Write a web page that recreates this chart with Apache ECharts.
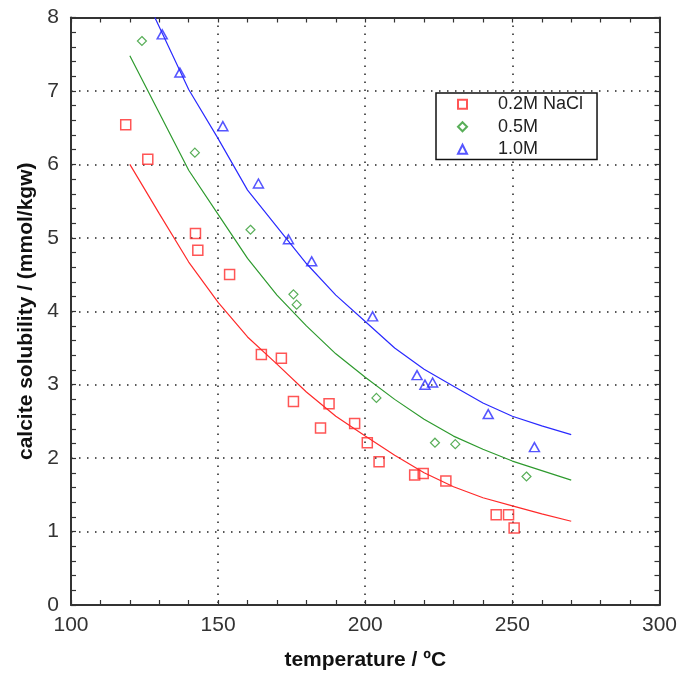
<!DOCTYPE html>
<html>
<head>
<meta charset="utf-8">
<script src="https://cdn.jsdelivr.net/npm/echarts@6/dist/echarts.min.js"></script>
<style>html,body{margin:0;padding:0;background:#fff}#c{width:680px;height:676px}</style>
</head>
<body>
<div id="c"></div>
<script>
// Measured data (temperature in °C, calcite solubility in mmol/kgw)
const redT = [118.6, 126.1, 142.3, 143.1, 153.9, 164.7, 171.5, 175.6, 184.8, 187.7, 196.4, 200.7, 204.7, 216.8, 219.7, 227.4, 244.5, 248.7, 250.6];
const redS = [6.54, 6.07, 5.06, 4.83, 4.50, 3.41, 3.36, 2.77, 2.41, 2.74, 2.47, 2.21, 1.95, 1.77, 1.79, 1.69, 1.23, 1.23, 1.05];

const greenT = [124.1, 142.1, 161.0, 175.6, 176.7, 203.8, 223.7, 230.6, 254.8];
const greenS = [7.68, 6.16, 5.11, 4.23, 4.09, 2.82, 2.21, 2.19, 1.75];

const blueT = [131.0, 137.0, 151.6, 163.7, 173.9, 181.8, 202.5, 217.6, 220.3, 222.9, 241.8, 257.5];
const blueS = [7.77, 7.25, 6.52, 5.74, 4.98, 4.68, 3.93, 3.13, 3.00, 3.03, 2.60, 2.15];

// Model curves
const fitT = [120, 130, 140, 150, 160, 170, 180, 190, 200, 210, 220, 230, 240, 250, 260, 270];
const redFit = [6.00, 5.33, 4.67, 4.12, 3.65, 3.28, 2.90, 2.57, 2.30, 2.04, 1.80, 1.61, 1.46, 1.35, 1.24, 1.14];
const greenFit = [7.48, 6.70, 5.92, 5.32, 4.72, 4.22, 3.80, 3.42, 3.10, 2.80, 2.53, 2.30, 2.12, 1.96, 1.83, 1.70];
const blueFitT = [128.5, 140, 150, 160, 170, 180, 190, 200, 210, 220, 230, 240, 250, 260, 270];
const blueFit = [8.00, 7.02, 6.35, 5.65, 5.15, 4.65, 4.22, 3.86, 3.50, 3.21, 2.98, 2.75, 2.57, 2.44, 2.32];

const seriesNames = ['0.2M NaCl', '0.5M', '1.0M'];
const xTitle = 'temperature / ºC';
const yTitle = 'calcite solubility / (mmol/kgw)';

const RED = '#ff2a2a', GREEN = '#2e9a2e', BLUE = '#2a2aff';
const zip = (a, b) => a.map((v, i) => [v, b[i]]);
const FONT = 'Liberation Sans, Arial, sans-serif';
const AX = '#333';

const chart = echarts.init(document.getElementById('c'), null, {renderer: 'canvas'});

const tickCommon = {
  axisLine: {show: true, onZero: false, lineStyle: {color: AX, width: 2}},
  axisTick: {show: true, inside: true, length: 5, lineStyle: {color: AX, width: 1.2}},
  minorTick: {show: true, splitNumber: 5, length: 5, lineStyle: {color: AX, width: 1.2}},
};
const dotted = {show: true, lineStyle: {color: '#222', width: 1.5, type: [1.5, 6.5]}};

chart.setOption({
  animation: false,
  backgroundColor: '#fff',
  grid: {left: 71, right: 19, top: 17.5, bottom: 68.5, containLabel: false},
  xAxis: [
    Object.assign({
      type: 'value', position: 'bottom', min: 100, max: 300, interval: 50,
      name: xTitle, nameLocation: 'middle', nameGap: 45,
      nameTextStyle: {fontFamily: FONT, fontWeight: 'bold', fontSize: 21, color: '#111'},
      axisLabel: {fontFamily: FONT, fontSize: 21, color: '#333', margin: 10},
      splitLine: dotted
    }, tickCommon),
    Object.assign({
      type: 'value', position: 'top', min: 100, max: 300, interval: 50,
      axisLabel: {show: false}, splitLine: {show: false}
    }, tickCommon)
  ],
  yAxis: [
    Object.assign({
      type: 'value', position: 'left', min: 0, max: 8, interval: 1,
      name: yTitle, nameLocation: 'middle', nameGap: 33, nameRotate: 90,
      nameTextStyle: {fontFamily: FONT, fontWeight: 'bold', fontSize: 21, color: '#111'},
      axisLabel: {fontFamily: FONT, fontSize: 21, color: '#333', margin: 12},
      splitLine: dotted
    }, tickCommon),
    Object.assign({
      type: 'value', position: 'right', min: 0, max: 8, interval: 1,
      axisLabel: {show: false}, splitLine: {show: false}
    }, tickCommon)
  ],
  legend: {
    orient: 'vertical', left: 436, top: 93,
    data: seriesNames,
    backgroundColor: '#fff', borderColor: '#111', borderWidth: 1.5,
    padding: [1, 14, 0, 21],
    itemWidth: 9, itemHeight: 9, itemGap: 2,
    textStyle: {fontFamily: FONT, fontSize: 18, color: '#222', lineHeight: 20.5, padding: [0, 0, 0, 26]},
    z: 10
  },
  series: [
    {name: seriesNames[0], type: 'scatter', data: zip(redT, redS), symbol: 'rect', symbolSize: 10,
     itemStyle: {color: 'rgba(0,0,0,0)', borderColor: RED, borderWidth: 1.5}},
    {name: seriesNames[1], type: 'scatter', data: zip(greenT, greenS), symbol: 'diamond', symbolSize: 9,
     itemStyle: {color: 'rgba(0,0,0,0)', borderColor: GREEN, borderWidth: 1.2}},
    {name: seriesNames[2], type: 'scatter', data: zip(blueT, blueS), symbol: 'triangle', symbolSize: [10, 9],
     itemStyle: {color: 'rgba(0,0,0,0)', borderColor: BLUE, borderWidth: 1.5}},
    {type: 'line', data: zip(fitT, redFit), showSymbol: false, lineStyle: {color: RED, width: 1.2}, clip: true},
    {type: 'line', data: zip(fitT, greenFit), showSymbol: false, lineStyle: {color: GREEN, width: 1.2}, clip: true},
    {type: 'line', data: zip(blueFitT, blueFit), showSymbol: false, lineStyle: {color: BLUE, width: 1.2}, clip: true}
  ]
});
</script>
</body>
</html>
